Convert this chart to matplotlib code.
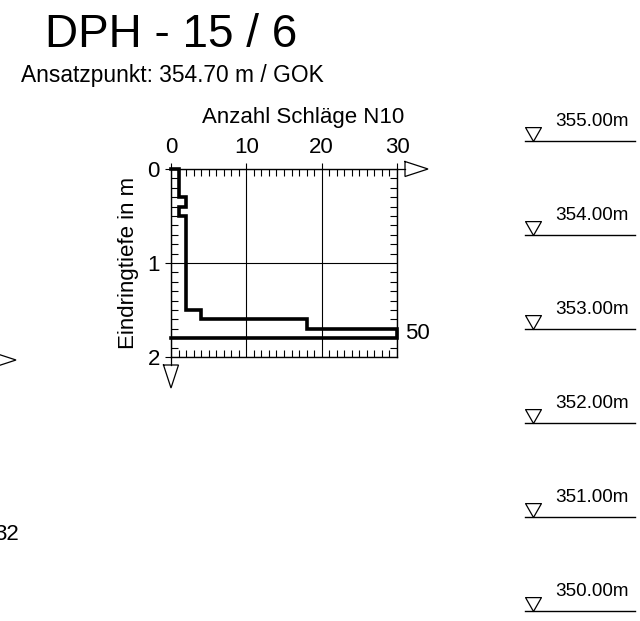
import numpy as np
import matplotlib
matplotlib.use("Agg")
import matplotlib.pyplot as plt
from matplotlib.path import Path
from matplotlib.lines import Line2D

plt.rcParams['font.family'] = ['Liberation Sans', 'DejaVu Sans']

# --- data -------------------------------------------------------------
title = "DPH - 15 / 6"
start_elev = 354.70                    # m, ground surface (GOK)
interval = 0.1                         # m per blow count reading
n10 = [1, 1, 1, 2, 1, 2, 2, 2, 2, 2, 2, 2, 2, 2, 2, 4, 18, 50]
x_ticks = [0, 10, 20, 30]
y_ticks = [0, 1, 2]
levels = [355.0, 354.0, 353.0, 352.0, 351.0, 350.0]
neighbour_label = "32"

x_max = x_ticks[-1]
depth_max = y_ticks[-1]

W, H = 640, 621
fig = plt.figure(figsize=(W / 100, H / 100), dpi=100)


def fx(px):
    return px / W


def fy(py):
    return 1 - py / H


# --- sounding diagram ------------------------------------------------------
ax = fig.add_axes([fx(171), fy(357), fx(397) - fx(171), fy(169) - fy(357)])
ax.set_xlim(0, x_max)
ax.set_ylim(depth_max, 0)

tops = np.arange(len(n10)) * interval
bots = tops + interval
shown = np.minimum(n10, x_max)
xs, ys = [0.0], [0.0]
for n, t, b in zip(shown, tops, bots):
    xs += [n, n]
    ys += [t, b]
xs.append(0.0)
ys.append(bots[-1])
ax.plot(xs, ys, color='k', lw=2.6, solid_joinstyle='miter',
        solid_capstyle='projecting', clip_on=False, zorder=5)

for n, t, b in zip(n10, tops, bots):
    if n > x_max:
        ax.annotate(str(n), xy=(x_max, (t + b) / 2), xytext=(6, 0),
                    textcoords='offset points', ha='left', va='center',
                    fontsize=16, annotation_clip=False)

ax.xaxis.tick_top()
ax.xaxis.set_label_position('top')
ax.set_xticks(x_ticks)
ax.set_yticks(y_ticks)
ax.set_xticks(np.arange(0, x_max + 1, 1), minor=True)
ax.set_yticks(np.arange(0, depth_max + 0.001, 0.1), minor=True)
ax.tick_params(which='major', direction='out', length=4, width=0.8,
               labelsize=16, pad=4, top=True, left=True,
               bottom=False, right=False)
ax.tick_params(which='minor', direction='in', length=5, width=0.8,
               top=True, bottom=True, left=True, right=True)
ax.grid(True, which='major', color='k', lw=0.8)
for sp in ax.spines.values():
    sp.set_linewidth(1.0)
ax.set_xlabel('Anzahl Schläge N10', fontsize=16)
ax.xaxis.label.set_va('bottom')
ax.xaxis.set_label_coords(0.584, 1.217)
ax.set_ylabel('Eindringtiefe in m', fontsize=16, labelpad=6)


def fig_line(pts, closed=False):
    px = [p[0] for p in pts]
    py = [p[1] for p in pts]
    if closed:
        px.append(px[0])
        py.append(py[0])
    fig.add_artist(Line2D([fx(v) for v in px], [fy(v) for v in py],
                          transform=fig.transFigure, color='k', lw=0.9,
                          solid_joinstyle='miter'))


# axis arrows
fig_line([(397, 169), (405, 169)])
fig_line([(405, 161.5), (428, 169), (405, 176.5)], closed=True)
fig_line([(171, 357), (171, 365)])
fig_line([(163.5, 365), (171, 388), (178.5, 365)], closed=True)

# neighbouring diagram at the left border
fig_line([(-7, 352.5), (16, 360), (-7, 367.5)], closed=True)
fig.text(fx(19), fy(534), neighbour_label, fontsize=16, ha='right', va='center')

# --- titles ---------------------------------------------------------------
fig.text(fx(45), fy(47), title, fontsize=33, ha='left', va='baseline')
fig.text(fx(21), fy(82), f"Ansatzpunkt: {start_elev:.2f} m / GOK",
         fontsize=16.4, ha='left', va='baseline')

# --- elevation scale ------------------------------------------------------
lax = fig.add_axes([fx(525), fy(357), fx(635) - fx(525), fy(169) - fy(357)])
lax.set_xlim(0, 1)
lax.set_ylim(start_elev - depth_max, start_elev)
lax.axis('off')

tri = Path([(-8, 14), (8, 14), (0, 0), (-8, 14)],
           [Path.MOVETO, Path.LINETO, Path.LINETO, Path.CLOSEPOLY])
for lv in levels:
    lax.plot([0, 1], [lv, lv], color='k', lw=1.0, clip_on=False)
    lax.plot([0.0727], [lv], marker=tri, ms=20, mfc='white', mec='k',
             mew=0.9, ls='none', clip_on=False)
    lax.annotate(f"{lv:.2f}m", xy=(0.275, lv), xytext=(0, 10.8),
                 textcoords='offset points', ha='left', va='baseline',
                 fontsize=13.6, annotation_clip=False)

fig.savefig("out.png", dpi=100)
